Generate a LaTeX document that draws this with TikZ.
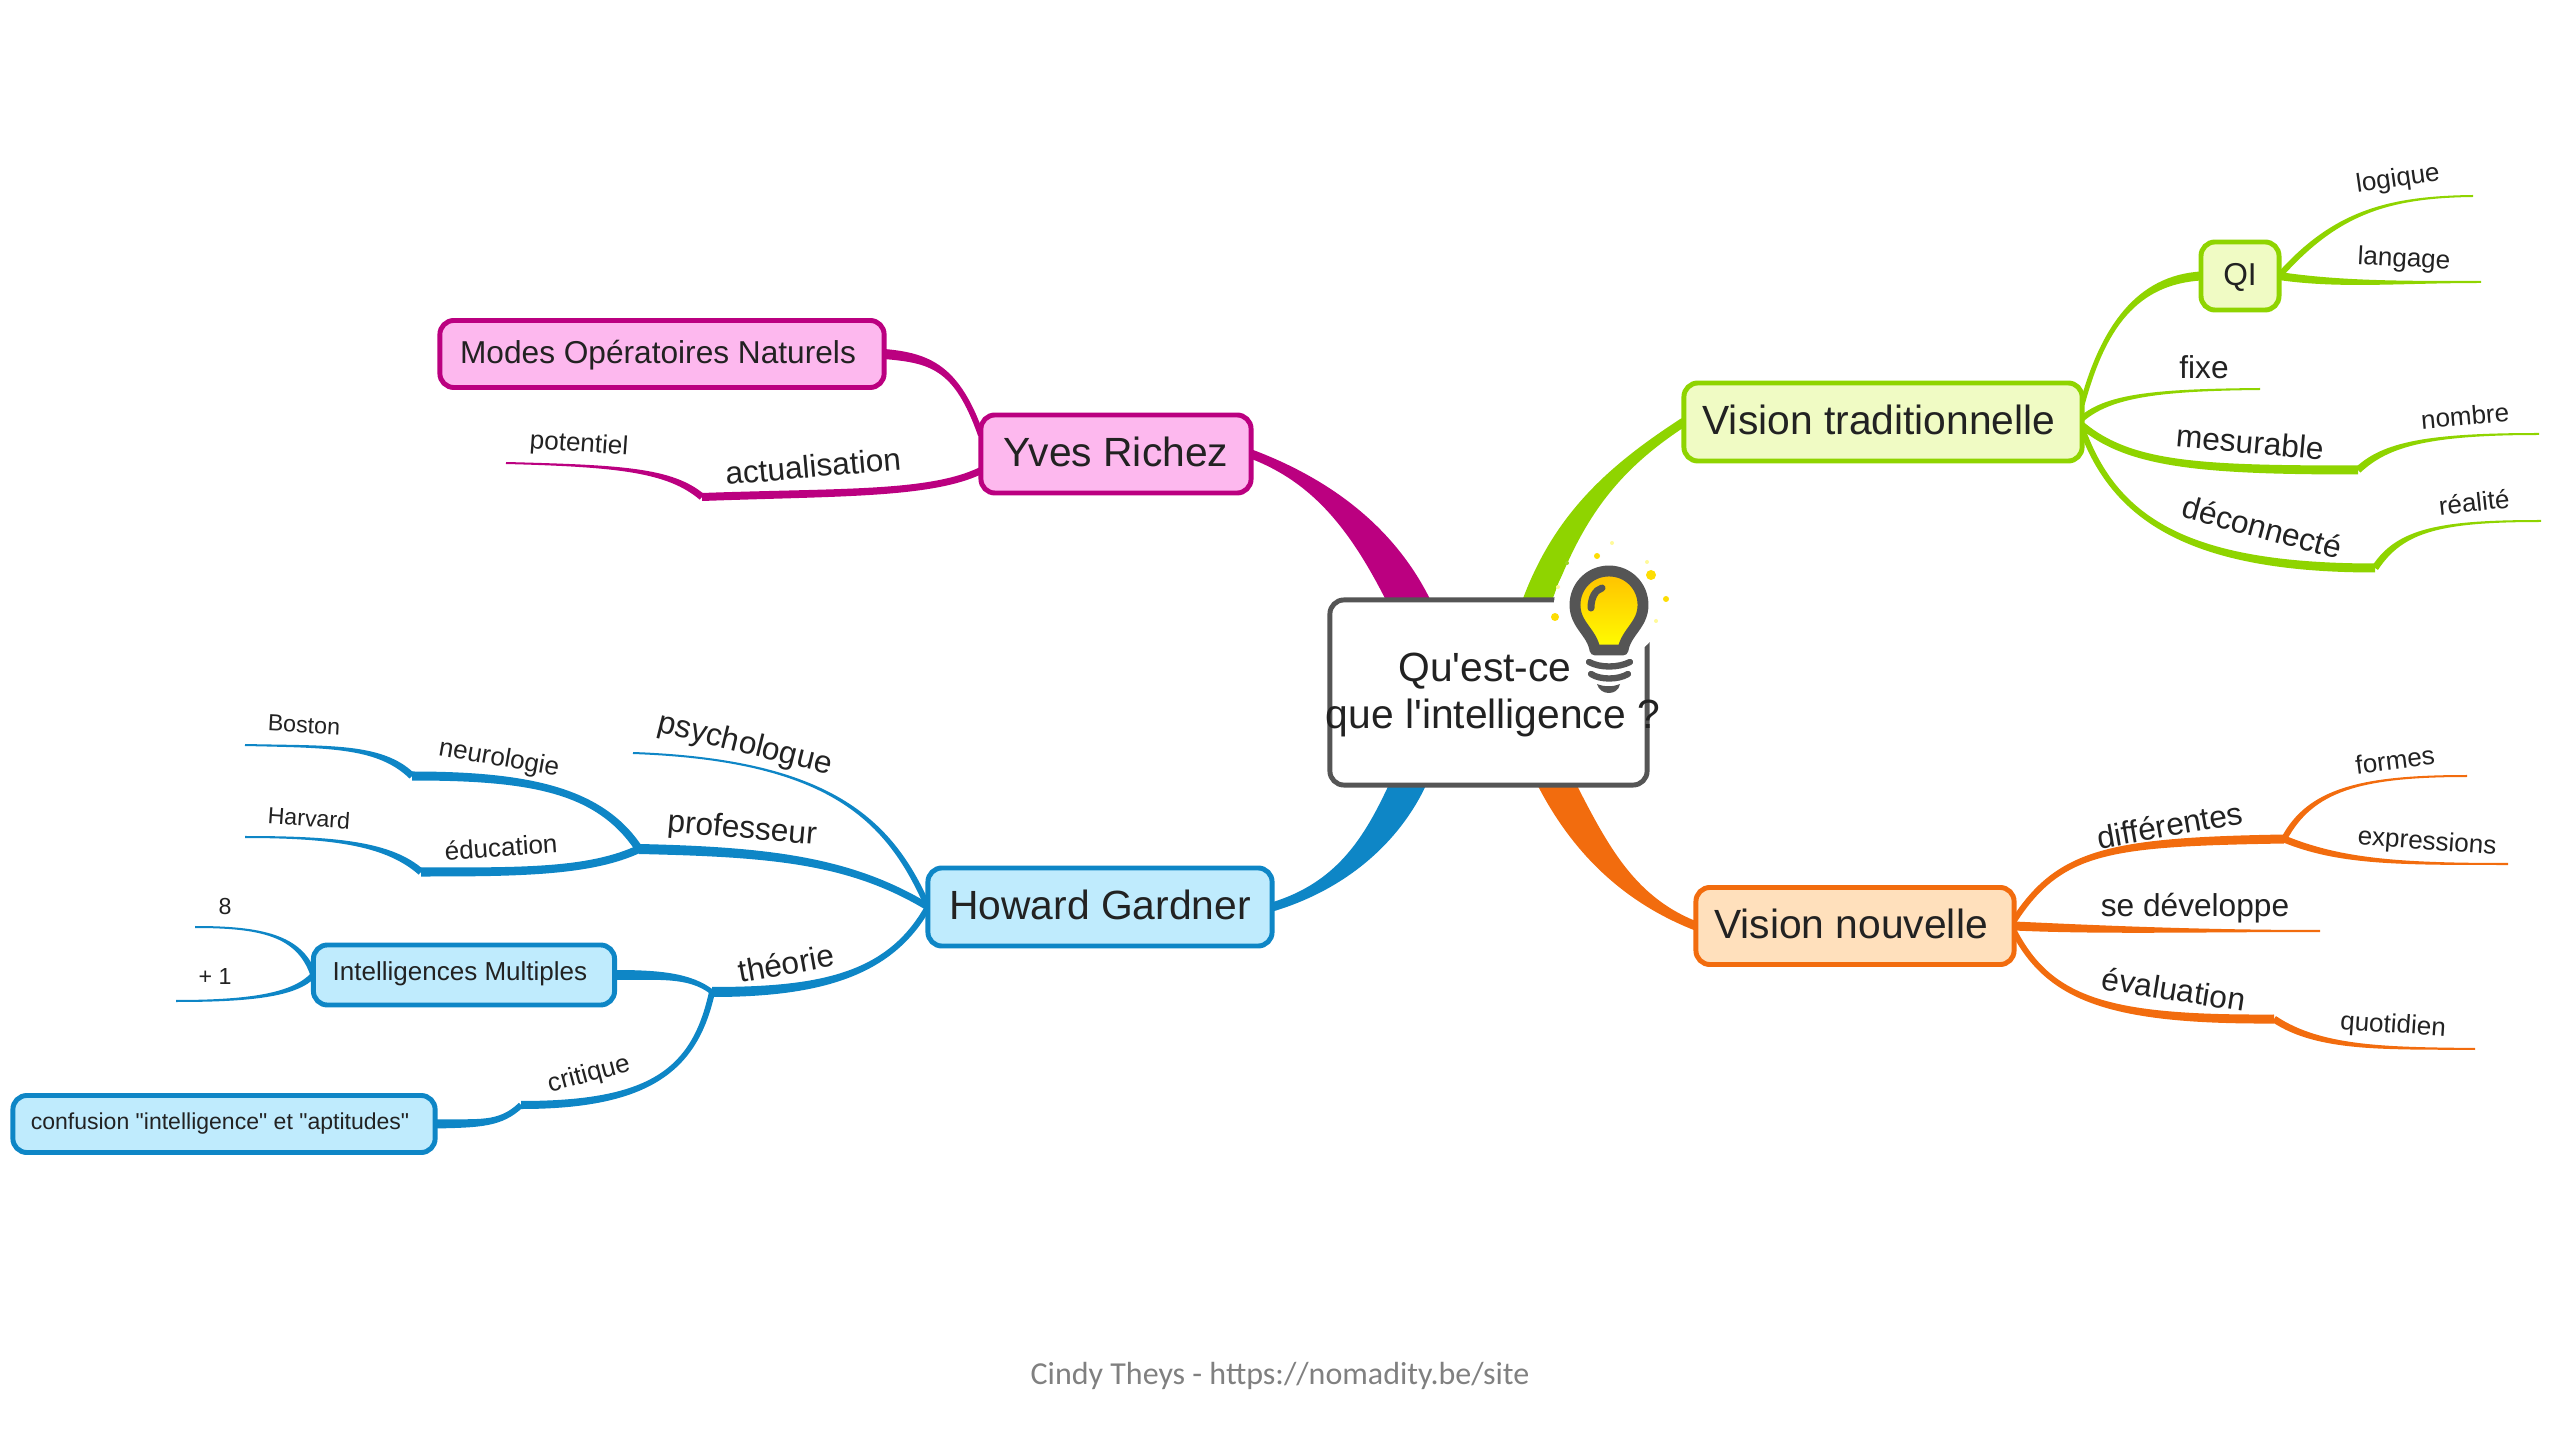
\documentclass[tikz,border=0pt]{standalone}
\usepackage{fontspec}
\setmainfont{Liberation Sans}
\newfontfamily\plainfont{Liberation Sans}
\newfontfamily\footfont{Carlito}
\usetikzlibrary{calc,backgrounds}

\definecolor{pinkline}{HTML}{BB0080}
\definecolor{pinkfill}{HTML}{FDB8EE}
\definecolor{greenline}{HTML}{8FD400}
\definecolor{greenfill}{HTML}{F0FBC4}
\definecolor{orangeline}{HTML}{F26C0E}
\definecolor{orangefill}{HTML}{FFE0BC}
\definecolor{blueline}{HTML}{0E86C6}
\definecolor{bluefill}{HTML}{BFEBFD}
\definecolor{rootline}{HTML}{555555}
\definecolor{inktext}{HTML}{222222}

\tikzset{
  box/.style={draw,line width=1.4pt,rounded corners=1.4mm,inner sep=0pt,outer sep=0pt,text=inktext,align=center,text height=9.3pt,text depth=2.3pt},
  pinkbox/.style={box,draw=pinkline,fill=pinkfill},
  greenbox/.style={box,draw=greenline,fill=greenfill},
  orangebox/.style={box,draw=orangeline,fill=orangefill},
  bluebox/.style={box,draw=blueline,fill=bluefill},
  nudged/.style={execute at end node={\hspace*{0.08cm}}},
  midtext/.style={text height=7.6pt,text depth=2.3pt},
  smalltext/.style={text height=6pt,text depth=2.6pt},
  txtbig/.style={font=\fontsize{11.6pt}{13.4pt}\selectfont},
  txtmid/.style={font=\fontsize{9pt}{11pt}\selectfont},
  txtsmall/.style={font=\fontsize{7.4pt}{9pt}\selectfont},
  txttiny/.style={font=\fontsize{6.6pt}{8pt}\selectfont},
  lbl/.style={inner sep=0pt,text=inktext},
}

\newcommand{\branch}[7]{
  \fill[#1] ($(#2)!#6*0.1423pt!90:(#3)$)
    .. controls ($(#3)!#6*0.1423pt!-90:(#2)$) and ($(#4)!#7*0.1423pt!90:(#5)$) .. ($(#5)!#7*0.1423pt!-90:(#4)$)
    -- ($(#5)!#7*0.1423pt!90:(#4)$)
    .. controls ($(#4)!#7*0.1423pt!-90:(#5)$) and ($(#3)!#6*0.1423pt!90:(#2)$) .. ($(#2)!#6*0.1423pt!-90:(#3)$)
    -- cycle;
}

\begin{document}
\begin{tikzpicture}[x=0.01cm,y=-0.01cm]
  \useasboundingbox (0,0) rectangle (2560,1440);

  \node[draw=rootline,line width=1.4pt,rounded corners=1.4mm,fill=white,inner sep=0pt,outer sep=0pt,minimum width=3.17cm,minimum height=1.85cm] (root) at (1488.5,692.5) {};

  \node[pinkbox,txtbig,minimum width=2.7cm,minimum height=0.78cm] (yves) at (1116,454) {Yves Richez};
  \node[pinkbox,txtmid,midtext,nudged,minimum width=4.44cm,minimum height=0.67cm] (modes) at (662,354) {Modes Opératoires Naturels};
  \node[greenbox,txtbig,nudged,minimum width=3.98cm,minimum height=0.78cm] (vtrad) at (1883,422) {Vision traditionnelle};
  \node[greenbox,txtmid,midtext,minimum width=0.78cm,minimum height=0.68cm] (qi) at (2240,276) {QI};
  \node[orangebox,txtbig,nudged,minimum width=3.18cm,minimum height=0.77cm] (vnew) at (1855,926) {Vision nouvelle};
  \node[bluebox,txtbig,minimum width=3.44cm,minimum height=0.78cm] (gardner) at (1100,907) {Howard Gardner};
  \node[bluebox,txtsmall,smalltext,nudged,minimum width=3.01cm,minimum height=0.6cm] (multi) at (464,975) {Intelligences Multiples};
  \node[bluebox,smalltext,nudged,font=\plainfont\fontsize{6.55pt}{8pt}\selectfont,minimum width=4.22cm,minimum height=0.57cm] (confusion) at (224,1124) {confusion "intelligence" et "aptitudes"};

  \coordinate (rootpink) at (1414,612);
  \coordinate (rootgreen) at (1533,612);
  \coordinate (rootblue) at (1412,775);
  \coordinate (rootorange) at (1552,775);

  \coordinate (actualjoin) at (702,497);
  \coordinate (potentielend) at (506,463);
  \coordinate (logiqueend) at (2473,196);
  \coordinate (langageend) at (2481,282);
  \coordinate (fixeend) at (2260,389);
  \coordinate (mesurejoin) at (2358,470);
  \coordinate (nombreend) at (2539,434);
  \coordinate (deconnectejoin) at (2375,568);
  \coordinate (realiteend) at (2541,521);
  \coordinate (diffjoin) at (2284,839);
  \coordinate (formesend) at (2467,776);
  \coordinate (expressend) at (2508,864);
  \coordinate (devend) at (2320,931);
  \coordinate (evaljoin) at (2274,1019);
  \coordinate (quotidienend) at (2475,1049);
  \coordinate (psychoend) at (633,753);
  \coordinate (profjoin) at (639,849);
  \coordinate (neurojoin) at (412,776);
  \coordinate (eduinjoin) at (421,872);
  \coordinate (bostonend) at (245,745);
  \coordinate (harvardend) at (245,837);
  \coordinate (theoriejoin) at (712,992);
  \coordinate (critiquejoin) at (521,1105);
  \coordinate (huitend) at (195,927);
  \coordinate (plusunend) at (176,1001);

  \begin{scope}[on background layer]
    \branch{pinkline}{rootpink}{1375,530}{1320,480}{yves.east}{40}{9}
    \branch{pinkline}{yves.172}{957,367}{930,358}{modes.east}{6}{10}
    \branch{pinkline}{yves.187}{930,495}{840,492}{actualjoin}{7}{8}
    \branch{pinkline}{actualjoin}{670,470}{620,466}{potentielend}{7}{2}

    \branch{greenline}{rootgreen}{1565,520}{1610,470}{vtrad.west}{28}{9}
    \branch{greenline}{vtrad.5}{2103,327}{2137,280}{qi.west}{5}{9}
    \branch{greenline}{qi.east}{2335,213}{2387,197}{logiqueend}{6}{2}
    \branch{greenline}{qi.east}{2340,285}{2400,282}{langageend}{8}{2}
    \branch{greenline}{vtrad.1}{2110,395}{2160,390}{fixeend}{6}{2}
    \branch{greenline}{vtrad.359}{2130,465}{2200,470}{mesurejoin}{7}{9}
    \branch{greenline}{mesurejoin}{2385,445}{2425,434}{nombreend}{7}{2}
    \branch{greenline}{vtrad.358}{2115,520}{2190,568}{deconnectejoin}{6}{9}
    \branch{greenline}{deconnectejoin}{2400,530}{2440,521}{realiteend}{7}{2}

    \branch{orangeline}{rootorange}{1590,850}{1630,900}{vnew.west}{35}{9}
    \branch{orangeline}{vnew.2}{2060,850}{2110,842}{diffjoin}{6}{9}
    \branch{orangeline}{diffjoin}{2310,790}{2360,776}{formesend}{6}{2}
    \branch{orangeline}{diffjoin}{2340,862}{2400,864}{expressend}{7}{2}
    \branch{orangeline}{vnew.east}{2100,930}{2200,931}{devend}{9}{2}
    \branch{orangeline}{vnew.358}{2050,1000}{2110,1020}{evaljoin}{6}{9}
    \branch{orangeline}{evaljoin}{2320,1050}{2390,1048}{quotidienend}{7}{2}

    \branch{blueline}{rootblue}{1385,835}{1345,885}{gardner.east}{34}{9}
    \branch{blueline}{gardner.west}{890,820}{830,760}{psychoend}{6}{2}
    \branch{blueline}{gardner.west}{850,860}{770,852}{profjoin}{7}{10}
    \branch{blueline}{profjoin}{600,790}{530,776}{neurojoin}{8}{9}
    \branch{blueline}{profjoin}{590,872}{520,872}{eduinjoin}{8}{9}
    \branch{blueline}{neurojoin}{380,745}{330,747}{bostonend}{7}{2}
    \branch{blueline}{eduinjoin}{390,845}{340,837}{harvardend}{7}{2}
    \branch{blueline}{gardner.west}{890,975}{820,992}{theoriejoin}{6}{10}
    \branch{blueline}{theoriejoin}{690,975}{660,975}{multi.east}{5}{10}
    \branch{blueline}{theoriejoin}{695,1070}{650,1105}{critiquejoin}{6}{8}
    \branch{blueline}{critiquejoin}{500,1125}{480,1123}{confusion.east}{6}{9}
    \branch{blueline}{multi.west}{300,935}{260,927}{huitend}{6}{2}
    \branch{blueline}{multi.west}{295,995}{250,1001}{plusunend}{6}{2}
  \end{scope}

  \fill[white] (1609,605) circle[radius=55];
  \foreach \x/\y/\r/\c in {1555/617/4/yellow!80!orange,1597/556/3/yellow!80!orange,1651/575/5/yellow!80!orange,1666/599/3/yellow!80!orange,1656/621/2/yellow!40,1647/562/2/yellow!40,1612/543/2/yellow!40,1558/587/2/yellow!40,1567/563/2/yellow!60!green} {
    \fill[\c] (\x,\y) circle[radius=\r];
  }
  \draw[line width=3.1pt,rootline,top color=orange!50!yellow,bottom color=yellow,line join=round]
    (1595,650) .. controls (1592,632) and (1575,625) .. (1575,605)
    .. controls (1575,586) and (1590,571) .. (1609,571)
    .. controls (1628,571) and (1643,586) .. (1643,605)
    .. controls (1643,625) and (1626,632) .. (1623,650) -- cycle;
  \draw[line width=2pt,rootline,line cap=round] (1591,608) .. controls (1591,598) and (1595,590) .. (1602,588);
  \draw[line width=1.8pt,rootline,line cap=round] (1589,662) .. controls (1600,668) and (1618,668) .. (1630,662);
  \draw[line width=1.8pt,rootline,line cap=round] (1591,674) .. controls (1600,680) and (1618,680) .. (1628,674);
  \fill[rootline] (1597,684) .. controls (1604,687) and (1613,687) .. (1620,684) .. controls (1618,696) and (1600,696) .. (1597,684) -- cycle;

  \node[lbl,font=\plainfont\fontsize{11.6pt}{13.4pt}\selectfont,align=center] (rootlabel) at (1493,695) {Qu'est-ce\hspace*{0.16cm}\\que l'intelligence ?};

  \node[lbl,txtmid,rotate=5] (actual) at (813,466) {actualisation};
  \node[lbl,txtsmall,rotate=-4] (potentiel) at (579,445) {potentiel};

  \node[lbl,txtsmall,rotate=8] (logique) at (2398,180) {logique};
  \node[lbl,txtsmall,rotate=-3] (langage) at (2404,260) {langage};
  \node[lbl,txtmid] (fixe) at (2204,367) {fixe};
  \node[lbl,txtmid,rotate=-5] (mesure) at (2250,442) {mesurable};
  \node[lbl,txtsmall,rotate=5] (nombre) at (2465,416) {nombre};
  \node[lbl,txtmid,rotate=-15] (deconnecte) at (2262,527) {déconnecté};
  \node[lbl,txtsmall,rotate=6] (realite) at (2474,502) {réalité};

  \node[lbl,txtmid,rotate=10] (diff) at (2170,825) {différentes};
  \node[lbl,txtsmall,rotate=7] (formes) at (2395,760) {formes};
  \node[lbl,txtsmall,rotate=-4] (express) at (2427,843) {expressions};
  \node[lbl,txtmid] (dev) at (2195,908) {se développe};
  \node[lbl,txtmid,rotate=-9] (eval) at (2174,989) {évaluation};
  \node[lbl,txtsmall,rotate=-4] (quotidien) at (2393,1026) {quotidien};

  \node[lbl,txtmid,rotate=-14] (psycho) at (745,745) {psychologue};
  \node[lbl,txtmid,rotate=-5] (prof) at (742,830) {professeur};
  \node[lbl,txtsmall,rotate=-10] (neuro) at (499,759) {neurologie};
  \node[lbl,txtsmall,rotate=4] (educ) at (501,847) {éducation};
  \node[lbl,txttiny,rotate=-3] (boston) at (304,725) {Boston};
  \node[lbl,txttiny,rotate=-4] (harvard) at (309,818) {Harvard};
  \node[lbl,txtmid,rotate=10] (theorie) at (786,963) {théorie};
  \node[lbl,txtsmall,rotate=15] (critique) at (589,1075) {critique};
  \node[lbl,txttiny] (huit) at (225,907) {8};
  \node[lbl,txttiny] (plusun) at (215,977) {+ 1};

  \node[lbl,text=black!50,font=\footfont\fontsize{9.1pt}{11pt}\selectfont] (foot) at (1280,1376) {Cindy Theys - https://nomadity.be/site};
\end{tikzpicture}
\end{document}
